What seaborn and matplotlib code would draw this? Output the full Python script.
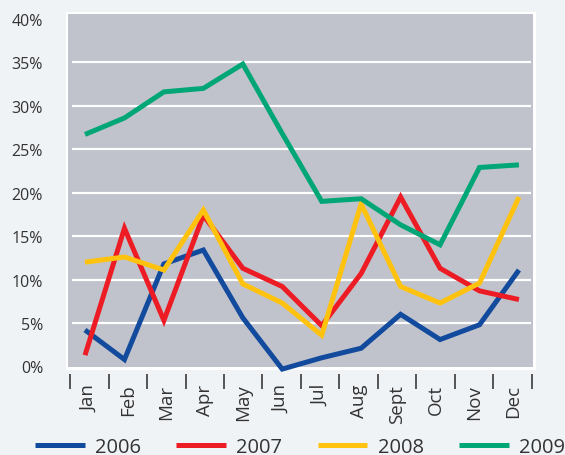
import numpy as np
import pandas as pd
import matplotlib
matplotlib.use("Agg")
import matplotlib.pyplot as plt
from matplotlib.patches import Rectangle
from matplotlib.lines import Line2D
import seaborn as sns

# Monthly share per year (percent)
months = ["Jan", "Feb", "Mar", "Apr", "May", "Jun", "Jul", "Aug", "Sept", "Oct", "Nov", "Dec"]
years = ["2006", "2007", "2008", "2009"]
share_2006 = [4.2, 0.8, 11.8, 13.4, 5.6, -0.3, 1.0, 2.1, 6.0, 3.1, 4.8, 11.1]
share_2007 = [1.3, 15.9, 5.3, 17.4, 11.3, 9.2, 4.7, 10.7, 19.5, 11.3, 8.7, 7.7]
share_2008 = [12.0, 12.6, 11.1, 18.0, 9.5, 7.3, 3.6, 18.7, 9.2, 7.3, 9.6, 19.5]
share_2009 = [26.7, 28.6, 31.6, 32.0, 34.8, 26.8, 19.0, 19.3, 16.3, 14.0, 22.9, 23.2]
y_ticks = [0, 5, 10, 15, 20, 25, 30, 35, 40]

colors = ["#124a9d", "#ed1c24", "#ffc20e", "#00a676"]
text_color = "#333333"

df = pd.DataFrame({
    "month_idx": np.tile(np.arange(len(months)), len(years)),
    "share": np.concatenate([share_2006, share_2007, share_2008, share_2009]),
    "year": np.repeat(years, len(months)),
})

sns.set_style("white")
plt.rcParams["font.family"] = ["Open Sans", "DejaVu Sans"]

W, H = 565, 456
fig = plt.figure(figsize=(W / 100, H / 100), dpi=100, facecolor="#f0f3f6")

# white frame behind the plotting area
fig.add_artist(Rectangle((65.5 / W, 1 - 370.5 / H), 470 / W, 358 / H,
                         transform=fig.transFigure, facecolor="white",
                         edgecolor="none", zorder=-1))
ax = fig.add_axes([68 / W, 1 - 368 / H, 465 / W, 353 / H])
ax.set_facecolor("#c1c3cc")

sns.lineplot(data=df, x="month_idx", y="share", hue="year", palette=colors,
             linewidth=3.6, ax=ax, legend=False, sort=False, estimator=None)
for line in ax.lines:
    line.set_clip_on(False)
    line.set_solid_joinstyle("miter")
    line.set_solid_capstyle("butt")
    line.set_zorder(3)

ax.set_xlim(-0.431, 11.356)
ax.set_ylim(-0.06, 40.56)

for s in ax.spines.values():
    s.set_visible(False)

# horizontal grid lines between the outer ticks
ax.hlines(y_ticks[1:-1], 0.009, 0.996, transform=ax.get_yaxis_transform(),
          colors="white", linewidth=1.6, zorder=1)

ax.set_yticks(y_ticks)
ax.set_yticklabels([f"{v}%" for v in y_ticks], fontsize=11.5, color=text_color)
ax.tick_params(axis="y", length=0, pad=18)

# month separators and labels
seps = np.linspace(-0.38, 11.33, len(months) + 1)
label_pos = (seps[:-1] + seps[1:]) / 2
ax.set_xticks(label_pos)
ax.set_xticklabels(months, rotation=90, fontsize=13.5, color=text_color)
ax.tick_params(axis="x", length=0, pad=12)
ax.vlines(seps, -0.0198, -0.0623, transform=ax.get_xaxis_transform(),
          colors="#3a3a3a", linewidth=1.2, clip_on=False)
ax.set_xlabel("")
ax.set_ylabel("")

handles = [Line2D([], [], color=c, linewidth=3.6, solid_capstyle="butt") for c in colors]
fig.legend(handles, years, loc="center left", bbox_to_anchor=(35 / W, 1 - 448 / H),
           ncol=4, frameon=False, fontsize=14.5, handlelength=2.48,
           handletextpad=0.5, columnspacing=1.75, borderpad=0, borderaxespad=0,
           labelcolor=text_color)

fig.savefig("out.png", dpi=100, facecolor=fig.get_facecolor())
